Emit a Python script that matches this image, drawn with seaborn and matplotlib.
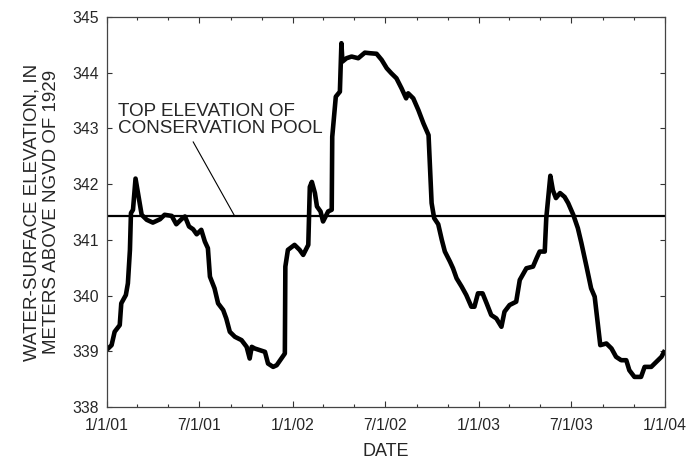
import matplotlib
matplotlib.use("Agg")
import matplotlib.pyplot as plt
import matplotlib.dates as mdates
from matplotlib.ticker import FuncFormatter
import pandas as pd
import seaborn as sns

# Water-surface elevation record (meters above NGVD of 1929)
dates = [
    "2001-01-01", "2001-01-10", "2001-01-16", "2001-01-26", "2001-01-29", "2001-02-07",
    "2001-02-11", "2001-02-15", "2001-02-17", "2001-02-21", "2001-02-26", "2001-03-05",
    "2001-03-10", "2001-03-20", "2001-04-01", "2001-04-15", "2001-04-24", "2001-05-08",
    "2001-05-17", "2001-05-27", "2001-06-03", "2001-06-11", "2001-06-19", "2001-06-26",
    "2001-07-05", "2001-07-12", "2001-07-18", "2001-07-22", "2001-07-31", "2001-08-07",
    "2001-08-17", "2001-08-23", "2001-08-30", "2001-09-09", "2001-09-22", "2001-10-02",
    "2001-10-08", "2001-10-12", "2001-10-18", "2001-10-28", "2001-11-07", "2001-11-13",
    "2001-11-23", "2001-11-30", "2001-12-09", "2001-12-16", "2001-12-17", "2001-12-22",
    "2002-01-04", "2002-01-14", "2002-01-21", "2002-01-31", "2002-02-03", "2002-02-07",
    "2002-02-13", "2002-02-17", "2002-02-24", "2002-03-01", "2002-03-11", "2002-03-18",
    "2002-03-19", "2002-03-26", "2002-04-03", "2002-04-06", "2002-04-08", "2002-04-16",
    "2002-04-26", "2002-05-09", "2002-05-22", "2002-06-01", "2002-06-14", "2002-06-24",
    "2002-07-04", "2002-07-13", "2002-07-23", "2002-08-02", "2002-08-11", "2002-08-15",
    "2002-08-25", "2002-09-04", "2002-09-14", "2002-09-24", "2002-09-30", "2002-10-05",
    "2002-10-13", "2002-10-20", "2002-10-26", "2002-11-05", "2002-11-11", "2002-11-18",
    "2002-11-28", "2002-12-07", "2002-12-17", "2002-12-23", "2002-12-30", "2003-01-08",
    "2003-01-16", "2003-01-25", "2003-02-04", "2003-02-14", "2003-02-20", "2003-03-02",
    "2003-03-15", "2003-03-22", "2003-04-04", "2003-04-17", "2003-04-24", "2003-04-30",
    "2003-05-10", "2003-05-13", "2003-05-17", "2003-05-21", "2003-05-26", "2003-06-01",
    "2003-06-09", "2003-06-18", "2003-06-25", "2003-07-05", "2003-07-14", "2003-07-21",
    "2003-07-31", "2003-08-09", "2003-08-16", "2003-08-22", "2003-08-27", "2003-09-08",
    "2003-09-18", "2003-09-27", "2003-10-07", "2003-10-17", "2003-10-23", "2003-11-02",
    "2003-11-15", "2003-11-22", "2003-12-05", "2003-12-15", "2003-12-25", "2004-01-01",
]
elevation = [
    339.03, 339.11, 339.35, 339.47, 339.86, 340.01,
    340.22, 340.82, 341.48, 341.54, 342.10, 341.72,
    341.45, 341.36, 341.31, 341.37, 341.45, 341.43,
    341.28, 341.37, 341.42, 341.24, 341.19, 341.10,
    341.18, 340.97, 340.85, 340.34, 340.13, 339.86,
    339.74, 339.59, 339.35, 339.26, 339.20, 339.08,
    338.87, 339.08, 339.05, 339.02, 338.99, 338.78,
    338.72, 338.75, 338.87, 338.96, 340.52, 340.82,
    340.91, 340.82, 340.73, 340.91, 341.95, 342.04,
    341.84, 341.60, 341.51, 341.33, 341.51, 341.54,
    342.85, 343.57, 343.66, 344.53, 344.20, 344.26,
    344.29, 344.26, 344.36, 344.35, 344.34, 344.23,
    344.08, 343.99, 343.90, 343.72, 343.54, 343.63,
    343.54, 343.33, 343.09, 342.88, 341.66, 341.39,
    341.28, 341.00, 340.79, 340.61, 340.49, 340.31,
    340.16, 340.01, 339.80, 339.80, 340.04, 340.04,
    339.86, 339.65, 339.59, 339.44, 339.71, 339.83,
    339.89, 340.28, 340.49, 340.52, 340.67, 340.79,
    340.79, 341.39, 341.77, 342.15, 341.89, 341.75,
    341.84, 341.77, 341.66, 341.45, 341.21, 340.94,
    340.52, 340.13, 339.98, 339.50, 339.11, 339.14,
    339.05, 338.90, 338.84, 338.84, 338.66, 338.54,
    338.54, 338.72, 338.72, 338.81, 338.90, 339.02,
]

pool_level = 341.42
pool_label = "TOP ELEVATION OF\nCONSERVATION POOL"
y_ticks = [338, 339, 340, 341, 342, 343, 344, 345]

df = pd.DataFrame({"date": pd.to_datetime(dates), "elevation": elevation})

sns.set_style("ticks")
plt.rcParams["font.family"] = ["Liberation Sans", "DejaVu Sans"]

fig = plt.figure(figsize=(6.94, 4.61), dpi=100)
ax = fig.add_axes([107 / 694, 1 - 407 / 461, 558 / 694, 390 / 461])

sns.lineplot(data=df, x="date", y="elevation", color="black", linewidth=3.3,
             ax=ax, solid_joinstyle="round", solid_capstyle="butt")

ax.axhline(pool_level, color="black", linewidth=1.6)

# Callout for the conservation-pool line
ax.annotate("", xy=(pd.Timestamp("2001-09-09"), pool_level),
            xytext=(pd.Timestamp("2001-06-19"), 342.76),
            arrowprops=dict(arrowstyle="-", color="black", lw=0.8,
                            shrinkA=0, shrinkB=0))
ax.text(pd.Timestamp("2001-01-22"), 343.15, pool_label, fontsize=13.6,
        ha="left", va="center", linespacing=1.0)

ax.set_xlim(pd.Timestamp("2001-01-01"), pd.Timestamp("2004-01-01"))
ax.set_ylim(338, 345)
ax.set_yticks(y_ticks)

ax.xaxis.set_major_locator(mdates.MonthLocator(bymonth=[1, 7]))
ax.xaxis.set_minor_locator(mdates.MonthLocator(bymonth=[3, 5, 9, 11]))


def short_date(x, pos=None):
    d = mdates.num2date(x)
    return f"{d.month}/{d.day}/{d.year % 100:02d}"


ax.xaxis.set_major_formatter(FuncFormatter(short_date))

ax.tick_params(axis="both", which="both", direction="in", top=True, right=True,
               color="#333333", width=0.8)
ax.tick_params(axis="x", which="major", length=4.2, pad=8, labelsize=11.3)
ax.tick_params(axis="x", which="minor", length=2.3)
ax.tick_params(axis="y", which="major", length=3.8, pad=6, labelsize=11.3)

for side in ["left", "right", "top", "bottom"]:
    ax.spines[side].set_visible(True)
    ax.spines[side].set_color("#444444")
    ax.spines[side].set_linewidth(0.9)

ax.set_xlabel("DATE", fontsize=13, labelpad=7)
ax.set_ylabel("WATER-SURFACE ELEVATION, IN\nMETERS ABOVE NGVD OF 1929",
              fontsize=13.5, linespacing=1.15, labelpad=9)

fig.savefig("out.png", dpi=100)
